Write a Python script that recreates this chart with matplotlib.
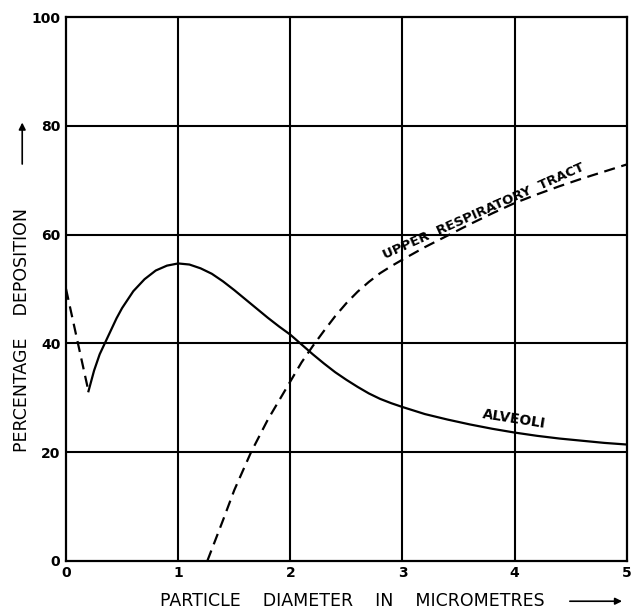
import matplotlib
matplotlib.use("Agg")
import matplotlib.pyplot as plt

# ============================
# Data
# ============================
alv_dash_x = [0.0, 0.2]
alv_dash_y = [50.0, 31.2]

alv_x = [0.2, 0.25, 0.3, 0.35, 0.4, 0.45, 0.5, 0.6, 0.7, 0.8, 0.9, 1.0,
         1.1, 1.2, 1.3, 1.4, 1.5, 1.6, 1.7, 1.8, 1.9, 2.0, 2.1, 2.2, 2.3,
         2.4, 2.5, 2.6, 2.7, 2.8, 2.9, 3.0, 3.2, 3.4, 3.6, 3.8, 4.0, 4.2,
         4.4, 4.6, 4.8, 5.0]
alv_y = [31.2, 35.0, 38.0, 40.2, 42.4, 44.6, 46.5, 49.6, 51.8, 53.4, 54.3, 54.7,
         54.5, 53.8, 52.8, 51.4, 49.8, 48.1, 46.4, 44.7, 43.1, 41.6, 39.8, 38.0, 36.3,
         34.7, 33.3, 32.0, 30.8, 29.8, 29.0, 28.3, 27.0, 26.0, 25.1, 24.3, 23.6, 23.0,
         22.5, 22.1, 21.7, 21.4]

urt_x = [1.26, 1.4, 1.5, 1.65, 1.8, 1.9, 2.0, 2.1, 2.2, 2.3, 2.4, 2.5, 2.6,
         2.7, 2.8, 2.9, 3.0, 3.2, 3.4, 3.6, 3.8, 4.0, 4.2, 4.4, 4.6, 4.8, 5.0]
urt_y = [0.0, 7.5, 13.0, 20.0, 26.0, 29.5, 33.0, 36.5, 39.5, 42.3, 45.0, 47.4, 49.5,
         51.3, 52.9, 54.2, 55.4, 57.7, 59.8, 61.9, 63.9, 65.8, 67.4, 68.9, 70.3, 71.6, 72.9]

x_ticks = [0, 1, 2, 3, 4, 5]
y_ticks = [0, 20, 40, 60, 80, 100]

# ============================
# Plot
# ============================
fig = plt.figure(figsize=(6.35, 6.11), dpi=100)
ax = fig.add_axes([0.104, 0.082, 0.883, 0.890])

ax.set_xlim(0, 5)
ax.set_ylim(0, 100)

for xv in x_ticks[1:-1]:
    ax.axvline(xv, color="black", lw=1.5, zorder=1)
for yv in y_ticks[1:-1]:
    ax.axhline(yv, color="black", lw=1.5, zorder=1)

ax.plot(alv_dash_x, alv_dash_y, color="black", lw=1.6, dashes=(5, 3))
ax.plot(alv_x, alv_y, color="black", lw=1.6, solid_joinstyle="round")
ax.plot(urt_x, urt_y, color="black", lw=1.6, dashes=(5, 3))

ax.text(3.72, 64.3, "UPPER  RESPIRATORY  TRACT", rotation=24, fontsize=9.5,
        ha="center", va="center", fontweight="bold")
ax.text(4.0, 26.0, "ALVEOLI", rotation=-9, fontsize=10,
        ha="center", va="center", fontweight="bold")

for s in ax.spines.values():
    s.set_linewidth(1.6)

ax.set_xticks(x_ticks)
ax.set_yticks(y_ticks)
ax.tick_params(length=0, labelsize=10, pad=4)
for lab in ax.get_xticklabels() + ax.get_yticklabels():
    lab.set_fontweight("bold")

fig.text(0.555, 0.016, "PARTICLE    DIAMETER    IN    MICROMETRES", ha="center",
         va="center", fontsize=12.5)
ax.annotate("", xy=(0.984, 0.016), xytext=(0.893, 0.016),
            xycoords="figure fraction",
            arrowprops=dict(arrowstyle="-|>", color="black", lw=1.2))

fig.text(0.035, 0.46, "PERCENTAGE    DEPOSITION", rotation=90, ha="center",
         va="center", fontsize=12.5)
ax.annotate("", xy=(0.035, 0.804), xytext=(0.035, 0.727),
            xycoords="figure fraction",
            arrowprops=dict(arrowstyle="-|>", color="black", lw=1.2))

fig.savefig("out.png", dpi=100)
